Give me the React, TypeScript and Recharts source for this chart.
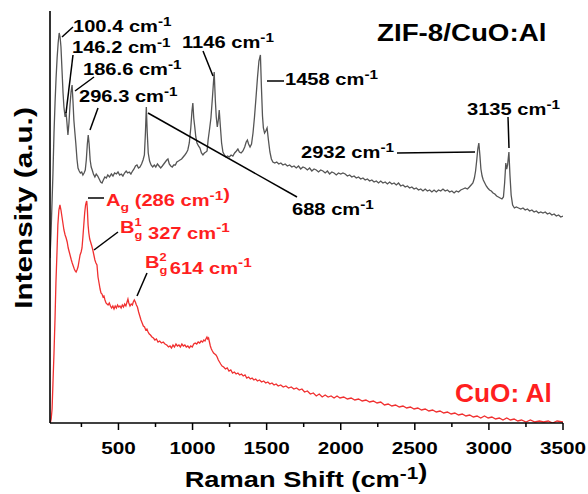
import { Line, LineChart, XAxis, YAxis } from 'recharts'

// ZIF-8/CuO:Al spectrum (upper trace)
const ZIF_SHIFT = [
	38, 45, 52, 58, 65, 72, 79, 86, 93, 100,
	106, 112, 119, 126, 132, 140, 146, 152, 159, 166,
	173, 180, 187, 193, 199, 205, 212, 220, 227, 235,
	243, 252, 260, 268, 276, 283, 290, 296, 302, 309,
	316, 323, 331, 341, 350, 360, 370, 380, 389, 398,
	408, 418, 428, 440, 452, 463, 474, 486, 497, 508,
	519, 530, 541, 552, 562, 573, 584, 595, 605, 615,
	625, 635, 645, 656, 666, 675, 682, 688, 694, 701,
	710, 720, 731, 742, 752, 763, 774, 785, 796, 806,
	816, 826, 834, 843, 853, 863, 873, 884, 894, 905,
	915, 926, 937, 948, 958, 968, 978, 988, 996, 1002,
	1008, 1015, 1022, 1030, 1040, 1050, 1060, 1070, 1080, 1090,
	1098, 1105, 1114, 1124, 1134, 1146, 1154, 1160, 1167, 1174,
	1180, 1188, 1196, 1205, 1215, 1225, 1236, 1248, 1260, 1272,
	1284, 1296, 1306, 1316, 1328, 1340, 1352, 1362, 1370, 1378,
	1388, 1398, 1408, 1418, 1428, 1438, 1448, 1458, 1465, 1472,
	1478, 1486, 1494, 1503, 1512, 1522, 1532, 1542, 1555, 1568,
	1582, 1596, 1610, 1625, 1640, 1655, 1670, 1685, 1700, 1715,
	1730, 1745, 1760, 1775, 1790, 1805, 1820, 1835, 1850, 1865,
	1880, 1895, 1910, 1925, 1940, 1955, 1970, 1985, 2000, 2015,
	2030, 2045, 2060, 2075, 2090, 2105, 2120, 2135, 2150, 2165,
	2180, 2195, 2210, 2225, 2240, 2255, 2270, 2285, 2300, 2315,
	2330, 2345, 2360, 2375, 2390, 2405, 2420, 2435, 2450, 2465,
	2480, 2495, 2510, 2525, 2540, 2555, 2570, 2585, 2600, 2615,
	2630, 2645, 2660, 2675, 2690, 2705, 2720, 2735, 2750, 2765,
	2780, 2795, 2810, 2825, 2840, 2855, 2868, 2880, 2892, 2902,
	2910, 2918, 2925, 2932, 2939, 2946, 2954, 2962, 2972, 2982,
	2992, 3004, 3016, 3028, 3040, 3052, 3064, 3076, 3088, 3098,
	3106, 3114, 3120, 3126, 3135, 3142, 3150, 3160, 3172, 3185,
	3200, 3215, 3230, 3245, 3260, 3275, 3290, 3305, 3320, 3335,
	3350, 3365, 3380, 3395, 3410, 3425, 3440, 3455, 3470, 3485, 3500,
]
const ZIF_INT = [
	165, 190, 222, 250, 290, 320, 345, 365, 380, 390,
	386, 376, 353, 330, 316, 306, 311, 301, 288, 300,
	318, 331, 338, 322, 303, 292, 280, 264, 255, 252,
	250, 251, 248, 250, 253, 263, 279, 288, 279, 263,
	256, 253, 249, 246, 249, 247, 244, 241, 240, 243,
	246, 245, 248, 246, 249, 247, 250, 249, 251, 248,
	249, 247, 250, 252, 250, 251, 249, 252, 254, 257,
	258, 255, 256, 259, 263, 268, 290, 316, 291, 270,
	262, 258, 256, 258, 256, 259, 257, 255, 257, 259,
	261, 263, 264, 259, 257, 256, 258, 258, 261, 262,
	263, 264, 266, 268, 270, 273, 280, 295, 312, 320,
	305, 296, 286, 280, 277, 275, 270, 268, 270, 271,
	272, 283, 293, 305, 325, 351, 322, 306, 296, 303,
	313, 296, 280, 271, 268, 266, 267, 266, 268, 267,
	270, 272, 274, 271, 270, 272, 276, 281, 283, 279,
	276, 279, 290, 306, 325, 345, 362, 368, 335, 307,
	295, 290, 292, 295, 283, 271, 264, 261, 260, 261,
	259, 260, 258, 259, 257, 258, 256, 257, 255, 257,
	254, 256, 255, 253, 255, 252, 254, 253, 251, 253,
	252, 250, 252, 249, 251, 250, 248, 250, 249, 250,
	249, 247, 248, 246, 247, 245, 246, 244, 245, 243,
	244, 242, 243, 241, 242, 240, 242, 240, 241, 239,
	241, 239, 240, 238, 240, 237, 238, 236, 237, 235,
	236, 234, 235, 233, 234, 232, 234, 232, 233, 231,
	233, 231, 233, 232, 234, 232, 233, 231, 232, 230,
	232, 231, 233, 234, 235, 234, 236, 238, 240, 245,
	252, 263, 274, 280, 268, 254, 247, 243, 240, 237,
	235, 233, 232, 230, 229, 227, 226, 225, 224, 226,
	240, 260, 254, 258, 271, 248, 228, 218, 215, 216,
	215, 214, 215, 213, 214, 212, 213, 211, 212, 210,
	211, 210, 211, 209, 210, 208, 209, 207, 208, 206, 207,
]

// CuO:Al spectrum (lower trace)
const CUO_SHIFT = [
	40, 46, 52, 58, 65, 72, 78, 85, 91, 98,
	105, 112, 119, 126, 132, 140, 147, 154, 161, 168,
	175, 182, 188, 195, 202, 208, 214, 220, 227, 234,
	241, 248, 254, 260, 266, 272, 278, 283, 286, 290,
	295, 300, 306, 312, 320, 327, 334, 341, 348, 355,
	362, 369, 376, 382, 389, 396, 402, 409, 416, 423,
	430, 438, 446, 454, 462, 470, 478, 486, 494, 502,
	510, 518, 526, 534, 542, 550, 558, 564, 570, 578,
	586, 594, 600, 607, 614, 621, 628, 636, 644, 652,
	660, 668, 676, 684, 692, 700, 708, 716, 726, 736,
	746, 756, 767, 778, 790, 802, 814, 826, 838, 848,
	858, 868, 878, 888, 898, 908, 918, 928, 938, 948,
	958, 968, 978, 988, 998, 1008, 1018, 1028, 1038, 1048,
	1058, 1068, 1076, 1084, 1090, 1097, 1102, 1108, 1114, 1120,
	1127, 1134, 1142, 1150, 1158, 1166, 1174, 1182, 1190, 1199,
	1210, 1222, 1234, 1246, 1258, 1270, 1282, 1294, 1306, 1318,
	1330, 1342, 1354, 1366, 1378, 1390, 1402, 1414, 1426, 1438,
	1452, 1466, 1480, 1494, 1508, 1522, 1536, 1550, 1564, 1578,
	1595, 1612, 1630, 1648, 1666, 1684, 1702, 1720, 1738, 1756,
	1775, 1795, 1815, 1835, 1855, 1875, 1895, 1915, 1935, 1955,
	1975, 1995, 2020, 2045, 2070, 2095, 2120, 2145, 2170, 2195,
	2220, 2245, 2270, 2295, 2320, 2345, 2370, 2395, 2420, 2445,
	2470, 2495, 2520, 2545, 2570, 2595, 2620, 2645, 2670, 2695,
	2720, 2745, 2770, 2795, 2820, 2845, 2870, 2895, 2920, 2945,
	2970, 2995, 3020, 3045, 3070, 3095, 3120, 3145, 3170, 3195,
	3220, 3250, 3280, 3310, 3340, 3370, 3400, 3430, 3460, 3500,
]
const CUO_INT = [
	0, 4, 14, 40, 70, 105, 140, 170, 198, 213,
	218, 213, 206, 199, 193, 188, 185, 181, 175, 171,
	167, 163, 160, 157, 154, 152, 151, 153, 156, 162,
	168, 171, 175, 186, 198, 210, 218, 221, 222, 214,
	198, 190, 184, 181, 177, 173, 168, 163, 160, 158,
	146, 140, 134, 130, 129, 126, 127, 123, 120, 119,
	118, 120, 117, 115, 117, 114, 117, 115, 118, 116,
	117, 115, 118, 116, 119, 117, 121, 124, 120, 117,
	119, 118, 121, 123, 121, 118, 116, 111, 107, 103,
	100, 97, 96, 93, 94, 91, 89, 88, 86, 85,
	83, 84, 81, 82, 80, 81, 79, 78, 76, 77,
	75, 78, 76, 79, 77, 78, 76, 79, 77, 78,
	76, 77, 75, 77, 76, 79, 80, 79, 81, 80,
	82, 81, 83, 82, 84, 86, 84, 85, 81, 77,
	74, 72, 70, 69, 68, 66, 63, 61, 59, 57,
	56, 54, 55, 52, 53, 50, 51, 49, 50, 48,
	49, 47, 48, 45, 46, 44, 45, 43, 44, 42,
	43, 41, 42, 40, 41, 39, 40, 38, 39, 37,
	38, 36, 37, 35, 36, 34, 35, 33, 34, 31,
	32, 29, 30, 27, 29, 26, 28, 26, 27, 25,
	27, 25, 26, 24, 25, 23, 24, 22, 23, 21,
	22, 20, 21, 18, 19, 17, 18, 16, 17, 15,
	16, 14, 15, 13, 14, 12, 13, 11, 12, 10,
	11, 9, 10, 8, 9, 7, 8, 6, 7, 5,
	7, 5, 6, 4, 5, 3, 5, 3, 4, 2,
	3, 1, 3, 1, 2, 1, 2, 0, 2, 1,
]

const SHIFT_TICKS = [250, 500, 750, 1000, 1250, 1500, 1750, 2000, 2250, 2500, 2750, 3000, 3250, 3500]

const zifData = ZIF_SHIFT.map((shift, i) => ({ shift, intensity: ZIF_INT[i] }))
const cuoData = CUO_SHIFT.map((shift, i) => ({ shift, intensity: CUO_INT[i] }))

const FONT = '"Liberation Sans", Arial, Helvetica, sans-serif'
const STRETCH = 1.22
const RED = '#ff1f1f'

function ShiftTick({ x, y, payload }: { x?: number; y?: number; payload?: { value: number } }) {
	const value = payload?.value ?? 0
	const major = value % 500 === 0
	return (
		<g>
			<line x1={x} x2={x} y1={y} y2={(y ?? 0) + (major ? 7 : 4)} stroke="#000" strokeWidth={1.5} />
			{major && (
				<text
					transform={`translate(${x} ${(y ?? 0) + 31}) scale(${STRETCH} 1)`}
					textAnchor="middle"
					fontFamily={FONT}
					fontWeight="bold"
					fontSize={17}
					fill="#000"
				>
					{value}
				</text>
			)}
		</g>
	)
}

// bold label, widened along its baseline
function Note({
	x,
	y,
	size = 16.5,
	color = '#000',
	anchor = 'start',
	rotate = 0,
	sx = STRETCH,
	children,
}: {
	x: number
	y: number
	size?: number
	color?: string
	anchor?: 'start' | 'middle' | 'end'
	rotate?: number
	sx?: number
	children: React.ReactNode
}) {
	return (
		<text
			transform={`translate(${x} ${y}) rotate(${rotate}) scale(${sx} 1)`}
			textAnchor={anchor}
			fontFamily={FONT}
			fontWeight="bold"
			fontSize={size}
			fill={color}
		>
			{children}
		</text>
	)
}

// "cm-1" with a raised exponent; `back` drops the baseline again for trailing text
function Cm({ size = 16.5, back = false }: { size?: number; back?: boolean }) {
	const up = size * 0.38
	return (
		<>
			cm
			<tspan dy={-up} fontSize={size * 0.76}>
				-1
			</tspan>
			{back && <tspan dy={up}>{''}</tspan>}
		</>
	)
}

function Leader({ x1, y1, x2, y2 }: { x1: number; y1: number; x2: number; y2: number }) {
	return <line x1={x1} y1={y1} x2={x2} y2={y2} stroke="#000" strokeWidth={1.5} />
}

// "B" with stacked sub g and superscript n
function Bg({ n, size = 16.5 }: { n: string; size?: number }) {
	const s = size * 0.64
	const up = size * 0.44
	const down = size * 0.34
	return (
		<>
			B
			<tspan dy={-up} fontSize={s}>
				{n}
			</tspan>
			<tspan dx={-s * 0.556} dy={up + down} fontSize={s}>
				g
			</tspan>
			<tspan dy={-down}>{''}</tspan>
		</>
	)
}

function Annotations() {
	return (
		<svg
			width={588}
			height={494}
			style={{ position: 'absolute', left: 0, top: 0, pointerEvents: 'none' }}
		>
			<Leader x1={62} y1={37} x2={73} y2={27} />
			<Leader x1={66} y1={113} x2={73} y2={55} />
			<Leader x1={75} y1={91} x2={94} y2={77} />
			<Leader x1={90} y1={130} x2={98} y2={108} />
			<Leader x1={213} y1={76} x2={203} y2={51} />
			<Leader x1={267} y1={81} x2={284} y2={81} />
			<Leader x1={148} y1={113} x2={297} y2={197} />
			<Leader x1={397} y1={153} x2={475} y2={152} />
			<Leader x1={508} y1={117} x2={509} y2={148} />
			<Leader x1={88} y1={198} x2={104} y2={198} />
			<Leader x1={94} y1={250} x2={118} y2={232} />
			<Leader x1={137} y1={296} x2={147} y2={273} />

			<Note x={73} y={32}>100.4 <Cm /></Note>
			<Note x={72} y={53}>146.2 <Cm /></Note>
			<Note x={83} y={75}>186.6 <Cm /></Note>
			<Note x={79} y={102}>296.3 <Cm /></Note>
			<Note x={182} y={48}>1146 <Cm /></Note>
			<Note x={285} y={85}>1458 <Cm /></Note>
			<Note x={292} y={215}>688 <Cm /></Note>
			<Note x={301} y={158}>2932 <Cm /></Note>
			<Note x={467} y={115}>3135 <Cm /></Note>
			<Note x={377} y={41} size={23.5} sx={1.18}>ZIF-8/CuO:Al</Note>

			<Note x={106} y={206} color={RED}>
				A
				<tspan dy={5} fontSize={11.5}>
					g
				</tspan>
				<tspan dy={-5}> (286 </tspan>
				<Cm back />)
			</Note>
			<Note x={120} y={233} color={RED}>
				<Bg n="1" /> 327 <Cm />
			</Note>
			<Note x={145} y={268} color={RED}>
				<Bg n="2" />
				<tspan dx={2}>614 </tspan>
				<Cm />
			</Note>
			<Note x={455} y={402} size={25} sx={1.05} color={RED}>CuO: Al</Note>

			<Note x={306} y={487} size={22} anchor="middle" sx={1.24}>
				Raman Shift (<Cm size={22} back />)
			</Note>
			<Note x={32} y={208} size={24} anchor="middle" rotate={-90} sx={1.24}>
				Intensity (a.u.)
			</Note>
		</svg>
	)
}

export default function App() {
	return (
		<div style={{ position: 'absolute', left: 0, top: 0, width: 588, height: 494, background: '#fff' }}>
			<LineChart width={588} height={494} margin={{ top: 11, right: 25, bottom: 0, left: 0 }}>
				<XAxis
					xAxisId="bottom"
					dataKey="shift"
					type="number"
					domain={[38, 3500]}
					ticks={SHIFT_TICKS}
					allowDataOverflow
					height={71}
					tickSize={0}
					tickMargin={0}
					tickLine={false}
					tick={<ShiftTick />}
					interval={0}
					stroke="#000"
					strokeWidth={1.6}
				/>
				<XAxis
					xAxisId="top"
					orientation="top"
					dataKey="shift"
					type="number"
					domain={[38, 3500]}
					allowDataOverflow
					height={0}
					tick={false}
					tickLine={false}
					stroke="#000"
					strokeWidth={1.6}
				/>
				<YAxis
					yAxisId="left"
					type="number"
					domain={[0, 412]}
					allowDataOverflow
					width={50}
					tick={false}
					tickLine={false}
					stroke="#000"
					strokeWidth={1.6}
				/>
				<YAxis
					yAxisId="right"
					orientation="right"
					type="number"
					domain={[0, 412]}
					width={0}
					tick={false}
					tickLine={false}
					stroke="#000"
					strokeWidth={1.6}
				/>
				<Line
					xAxisId="bottom"
					yAxisId="left"
					data={cuoData}
					dataKey="intensity"
					type="linear"
					stroke="#f03030"
					strokeWidth={1.3}
					dot={false}
					isAnimationActive={false}
				/>
				<Line
					xAxisId="bottom"
					yAxisId="left"
					data={zifData}
					dataKey="intensity"
					type="linear"
					stroke="#555"
					strokeWidth={1.3}
					dot={false}
					isAnimationActive={false}
				/>
			</LineChart>
			<Annotations />
		</div>
	)
}
